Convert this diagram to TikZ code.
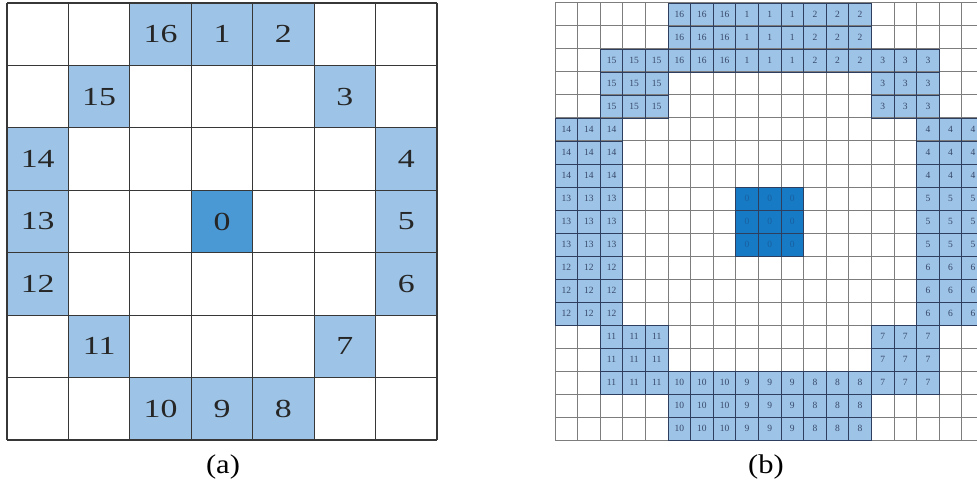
\documentclass[tikz,border=0pt]{standalone}
\usepackage{fontspec}
\setmainfont{Liberation Serif}
\newfontfamily\numfont[FakeStretch=1.3]{Liberation Serif}
\newfontfamily\capfont[FakeStretch=1.13]{Liberation Serif}
\definecolor{lblue}{RGB}{157,195,230}
\definecolor{dblueL}{RGB}{74,152,212}
\definecolor{dblueR}{RGB}{22,122,196}
\definecolor{gridL}{RGB}{55,55,55}
\definecolor{gridR}{RGB}{125,125,125}
\definecolor{edgeR}{RGB}{45,62,95}
\definecolor{numR}{RGB}{55,72,105}
\definecolor{numZ}{RGB}{25,95,160}
\tikzset{
  numL/.style={font=\numfont\fontsize{26}{28}\selectfont, text=black!85, inner sep=0pt},
  numRs/.style={font=\fontsize{9.5}{10}\selectfont, text=numR, inner sep=0pt},
  numZs/.style={font=\fontsize{9.5}{10}\selectfont, text=numZ, inner sep=0pt},
  lineL/.style={draw=gridL, line width=1.1pt},
  lineR/.style={draw=gridR, line width=1pt},
  edgeRs/.style={draw=edgeR, line width=0.9pt},
  capt/.style={font=\capfont\fontsize{27}{29}\selectfont, anchor=base, inner sep=0pt}
}
\begin{document}
\begin{tikzpicture}[x=1pt,y=-1pt]
\useasboundingbox (0,0) rectangle (977,484);
\clip (0,0) rectangle (977,484);
\fill[white] (0,0) rectangle (977,484);
% ---------------- (a) ----------------
\def\lw{61.43}
\def\lh{62.43}
\foreach \c/\r/\t in {2/0/16,3/0/1,4/0/2,1/1/15,5/1/3,0/2/14,6/2/4,0/3/13,6/3/5,0/4/12,6/4/6,1/5/11,5/5/7,2/6/10,3/6/9,4/6/8}{
  \fill[lblue] ({7+\c*\lw},{3+\r*\lh}) rectangle ++(\lw,\lh);
}
\fill[dblueL] ({7+3*\lw},{3+3*\lh}) rectangle ++(\lw,\lh);
\foreach \i in {0,...,7}{
  \draw[lineL] ({7+\i*\lw},3) -- ({7+\i*\lw},440);
  \draw[lineL] (7,{3+\i*\lh}) -- (437,{3+\i*\lh});
}
\foreach \c/\r/\t in {2/0/16,3/0/1,4/0/2,1/1/15,5/1/3,0/2/14,6/2/4,0/3/13,3/3/0,6/3/5,0/4/12,6/4/6,1/5/11,5/5/7,2/6/10,3/6/9,4/6/8}{
  \node[numL] (L\t) at ({7+(\c+0.5)*\lw},{3+(\r+0.5)*\lh}) {\t};
}
% ---------------- (b) ----------------
\def\rw{22.6}
\def\rh{23}
\foreach \c/\r/\t in {5/0/16,8/0/1,11/0/2,2/2/15,14/2/3,0/5/14,16/5/4,0/8/13,16/8/5,0/11/12,16/11/6,2/14/11,14/14/7,5/16/10,8/16/9,11/16/8}{
  \fill[lblue] ({555+\c*\rw},{3+\r*\rh}) rectangle ++({3*\rw},{3*\rh});
}
\fill[dblueR] ({555+8*\rw},{3+8*\rh}) rectangle ++({3*\rw},{3*\rh});
\foreach \i in {0,...,19}{
  \draw[lineR] ({555+\i*\rw},3) -- ({555+\i*\rw},440);
  \draw[lineR] (555,{3+\i*\rh}) -- (985,{3+\i*\rh});
}
\foreach \c/\r/\t in {5/0/16,8/0/1,11/0/2,2/2/15,14/2/3,0/5/14,16/5/4,0/8/13,8/8/0,16/8/5,0/11/12,16/11/6,2/14/11,14/14/7,5/16/10,8/16/9,11/16/8}{
  \foreach \a in {0,1,2}{
    \foreach \b in {0,1,2}{
      \draw[edgeRs] ({555+(\c+\a)*\rw},{3+(\r+\b)*\rh}) rectangle ++(\rw,\rh);
    }
  }
}
\foreach \c/\r/\t/\s in {5/0/16/numRs,8/0/1/numRs,11/0/2/numRs,2/2/15/numRs,14/2/3/numRs,0/5/14/numRs,16/5/4/numRs,0/8/13/numRs,8/8/0/numZs,16/8/5/numRs,0/11/12/numRs,16/11/6/numRs,2/14/11/numRs,14/14/7/numRs,5/16/10/numRs,8/16/9/numRs,11/16/8/numRs}{
  \foreach \a in {0,1,2}{
    \foreach \b in {0,1,2}{
      \node[\s] (R\t-\a-\b) at ({555+(\c+\a+0.5)*\rw},{3+(\r+\b+0.5)*\rh}) {\t};
    }
  }
}
% ---------------- captions ----------------
\node[capt] (capa) at (223,473) {(a)};
\node[capt] (capb) at (766,473) {(b)};
\end{tikzpicture}
\end{document}
